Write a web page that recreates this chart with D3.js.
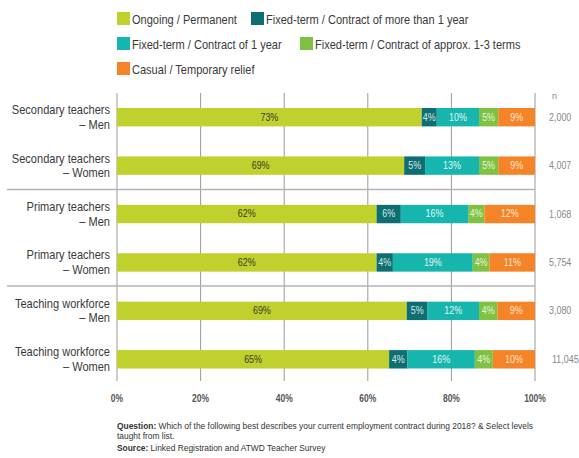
<!DOCTYPE html>
<html>
<head>
<meta charset="utf-8">
<script src="https://cdn.jsdelivr.net/npm/d3@7"></script>
<style>
  body { margin: 0; background: #fff; }
  svg text { font-family: "Liberation Sans", Arial, sans-serif; }
</style>
</head>
<body>
<div id="chart"></div>
<script>
"use strict"

// data (segment widths in %, labels are the rounded values)
const groups = [
    ["Secondary teachers", "– Men"],
    ["Secondary teachers", "– Women"],
    ["Primary teachers", "– Men"],
    ["Primary teachers", "– Women"],
    ["Teaching workforce", "– Men"],
    ["Teaching workforce", "– Women"]
];
const series = [
    "Ongoing / Permanent",
    "Fixed-term / Contract of more than 1 year",
    "Fixed-term / Contract of 1 year",
    "Fixed-term / Contract of approx. 1-3 terms",
    "Casual / Temporary relief"
];
const ongoing   = [72.9, 68.7, 62.1, 62.1, 69.3, 65.1];
const moreThan1 = [3.6, 5.0, 5.8, 3.9, 5.0, 4.4];
const oneYear   = [10.1, 12.9, 16.1, 19.1, 12.3, 16.1];
const terms     = [4.6, 4.6, 3.9, 4.0, 4.4, 4.3];
const casual    = [8.8, 8.8, 12.1, 10.9, 9.0, 10.1];
const nValues   = ["2,000", "4,007", "1,068", "5,754", "3,080", "11,045"];
const xTicks    = [0, 20, 40, 60, 80, 100];

const colors = ["#c0d12e", "#0e6f72", "#16b6ae", "#7fc243", "#f58428"];
const labelColors = ["#3a3a2a", "#d8e6e6", "#e4f4f2", "#e8f2dc", "#fbe4d0"];

const width = 579, height = 458;
const left = 117, right = 535;
const squeeze = 0.85; // the original uses a condensed face

const svg = d3.select("#chart").append("svg")
    .attr("width", width)
    .attr("height", height);

const x = d3.scaleLinear().domain([0, 100]).range([left, right]);
const y = d3.scaleBand()
    .domain(d3.range(groups.length))
    .range([93, 383.5])
    .paddingInner(0.62)
    .paddingOuter(0.31);

const rows = groups.map((g, i) => ({
    i: i,
    vals: [ongoing[i], moreThan1[i], oneYear[i], terms[i], casual[i]]
}));

// grid lines
svg.append("g")
    .selectAll("line")
    .data(xTicks)
    .join("line")
    .attr("x1", d => x(d))
    .attr("x2", d => x(d))
    .attr("y1", 93)
    .attr("y2", 381)
    .attr("stroke", "#9a9a9a")
    .attr("stroke-width", 1);

// separators between groups
svg.append("g")
    .selectAll("line")
    .data([189.5, 286])
    .join("line")
    .attr("x1", 7)
    .attr("x2", right)
    .attr("y1", d => d)
    .attr("y2", d => d)
    .attr("stroke", "#b4b4b4")
    .attr("stroke-width", 1.5);

// bars
const rowG = svg.append("g")
    .selectAll("g")
    .data(rows)
    .join("g");

rowG.each(function(r) {
    let acc = 0;
    const segs = r.vals.map((v, k) => {
        const s = { k: k, start: acc, v: v };
        acc += v;
        return s;
    });
    const g = d3.select(this);
    g.selectAll("rect")
        .data(segs)
        .join("rect")
        .attr("x", d => x(d.start))
        .attr("y", y(r.i))
        .attr("width", d => x(d.start + d.v) - x(d.start))
        .attr("height", y.bandwidth())
        .attr("fill", d => colors[d.k]);
    g.selectAll("text.val")
        .data(segs)
        .join("text")
        .attr("class", "val")
        .attr("transform", d => "translate(" + x(d.start + d.v / 2) + "," + (y(r.i) + y.bandwidth() / 2 + 3.4) + ") scale(" + squeeze + ",1)")
        .attr("text-anchor", "middle")
        .attr("font-size", 10.5)
        .attr("fill", d => labelColors[d.k])
        .text(d => Math.round(d.v) + "%");
});

// category labels
const catG = svg.append("g")
    .selectAll("text")
    .data(groups)
    .join("text")
    .attr("transform", (d, i) => "translate(110," + (y(i) + y.bandwidth() / 2 - 3) + ") scale(" + squeeze + ",1)")
    .attr("text-anchor", "end")
    .attr("font-size", 13)
    .attr("fill", "#3a3a3a");
catG.append("tspan")
    .attr("x", 0)
    .attr("y", 0)
    .text(d => d[0]);
catG.append("tspan")
    .attr("x", 0)
    .attr("y", 14.5)
    .text(d => d[1]);

// n column
svg.append("text")
    .attr("x", 552)
    .attr("y", 99)
    .attr("font-size", 9)
    .attr("fill", "#888")
    .text("n");
svg.append("g")
    .selectAll("text")
    .data(nValues)
    .join("text")
    .attr("transform", (d, i) => "translate(" + (i === 5 ? 552 : 549) + "," + (y(i) + y.bandwidth() / 2 + 3.5) + ") scale(" + squeeze + ",1)")
    .attr("font-size", 10.5)
    .attr("fill", "#888")
    .text(d => d);

// x axis labels
svg.append("g")
    .selectAll("text")
    .data(xTicks)
    .join("text")
    .attr("transform", d => "translate(" + x(d) + ",401.5) scale(" + squeeze + ",1)")
    .attr("text-anchor", "middle")
    .attr("font-size", 10)
    .attr("font-weight", "bold")
    .attr("fill", "#555")
    .text(d => d + "%");

// legend
const legendPos = [
    [117, 12], [251, 12],
    [117, 37], [300, 37],
    [117, 62]
];
const leg = svg.append("g")
    .selectAll("g")
    .data(series)
    .join("g")
    .attr("transform", (d, i) => "translate(" + legendPos[i][0] + "," + legendPos[i][1] + ")");
leg.append("rect")
    .attr("width", 13)
    .attr("height", 13)
    .attr("fill", (d, i) => colors[i]);
leg.append("text")
    .attr("transform", "translate(15,11.5) scale(" + squeeze + ",1)")
    .attr("font-size", 13)
    .attr("fill", "#3a3a3a")
    .text(d => d);

// footnote
const foot = svg.append("g")
    .attr("font-size", 9.9)
    .attr("fill", "#333");
const f1 = foot.append("text").attr("transform", "translate(117,428.5) scale(" + squeeze + ",1)");
f1.append("tspan").attr("font-weight", "bold").text("Question:");
f1.append("tspan").text(" Which of the following best describes your current employment contract during 2018? & Select levels");
foot.append("text").attr("transform", "translate(117,439) scale(" + squeeze + ",1)").text("taught from list.");
const f3 = foot.append("text").attr("transform", "translate(117,450.5) scale(" + squeeze + ",1)");
f3.append("tspan").attr("font-weight", "bold").text("Source:");
f3.append("tspan").text(" Linked Registration and ATWD Teacher Survey");
</script>
</body>
</html>
